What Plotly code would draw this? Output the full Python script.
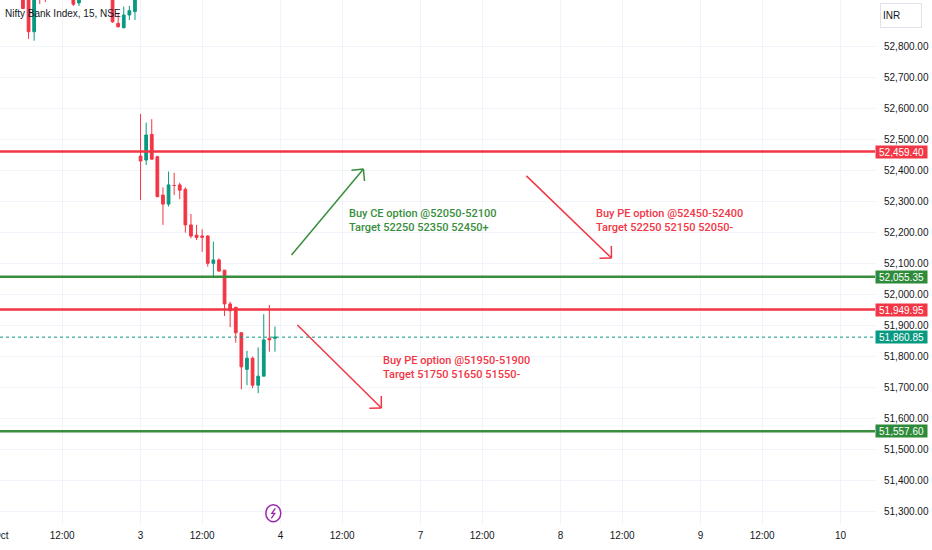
import numpy as np
import plotly.graph_objects as go

# 15 minute bars, x = bar number counted from 1 Oct 09:15 (25 bars per session)
bar_idx = [4, 5, 6, 7, 8, 13, 14, 20, 21, 22, 23, 24,
           25, 26, 27, 28, 29, 30, 31, 32, 33, 34, 35, 36, 37,
           38, 39, 40, 41, 42, 43, 44, 45, 46, 47, 48, 49]
bar_open = [52990, 52965, 52846, 52985, 52975, 52990, 52939, 52960, 52873, 52859, 52900, 52911,
            52445, 52432, 52515, 52443, 52319, 52290, 52350, 52352, 52338, 52223, 52190, 52187, 52187,
            52099, 52110, 52077, 51968, 51957, 51875, 51757, 51793, 51706, 51735, 51857, 51857]
bar_high = [53010, 52985, 53000, 52995, 52990, 53000, 52990, 52980, 52907, 52927, 52929, 52975,
            52581, 52553, 52564, 52446, 52344, 52395, 52391, 52359, 52344, 52258, 52223, 52209, 52190,
            52169, 52115, 52077, 51975, 51959, 51875, 51817, 51798, 51828, 51935, 51965, 51895]
bar_low = [52919, 52823, 52817, 52935, 52942, 52929, 52929, 52875, 52860, 52857, 52884, 52884,
           52303, 52416, 52438, 52312, 52223, 52282, 52319, 52306, 52198, 52180, 52174, 52136, 52088,
           52058, 52072, 51929, 51893, 51843, 51693, 51706, 51696, 51680, 51735, 51814, 51814]
bar_close = [52921, 52846, 52985, 52950, 52955, 52935, 52975, 52878, 52862, 52900, 52914, 52960,
             52429, 52513, 52435, 52314, 52290, 52352, 52350, 52335, 52223, 52187, 52182, 52183, 52099,
             52110, 52074, 51968, 51946, 51875, 51765, 51793, 51706, 51735, 51852, 51852, 51860.85]

tick_pos = [0, 11, 25, 36, 50, 61, 75, 86, 100, 111, 125, 136, 150]
tick_text = ["Oct", "12:00", "3", "12:00", "4", "12:00", "7", "12:00", "8", "12:00", "9", "12:00", "10"]
price_ticks = [51300, 51400, 51500, 51600, 51700, 51800, 51900, 52000,
               52100, 52200, 52300, 52400, 52500, 52600, 52700, 52800]

# horizontal levels drawn on the chart
levels = [52459.40, 52055.35, 51949.95, 51557.60]
level_kind = ["red", "green", "red", "green"]
last_price = 51860.85

# trade idea arrows (start bar, start price, end bar, end price)
arrows = [
    (51.96, 52126, 64.8, 52403, "green"),
    (93.9, 52381, 109.1, 52116, "red"),
    (53.0, 51900, 68.0, 51632, "red"),
]
notes = [
    (61.8, 52236, "Buy CE option @52050-52100<br>Target 52250 52350 52450+", "green"),
    (105.9, 52236, "Buy PE option @52450-52400<br>Target 52250 52150 52050-", "red"),
    (67.9, 51762, "Buy PE option @51950-51900<br>Target 51750 51650 51550-", "red"),
]

UP = "#089981"
DOWN = "#F23645"
COL = {"red": "#F23645", "green": "#388E3C"}
BOX = {"red": "#F23645", "green": "#2E8B3A"}
FONT = "Liberation Sans, Arial, sans-serif"

x_range = [-0.1, 156.15]
y_range = [51258.1, 52948.4]
plot_w, plot_h = 875, 524

fig = go.Figure()
fig.add_trace(go.Candlestick(
    x=bar_idx, open=bar_open, high=bar_high, low=bar_low, close=bar_close,
    increasing=dict(line=dict(color=UP, width=1), fillcolor=UP),
    decreasing=dict(line=dict(color=DOWN, width=1), fillcolor=DOWN),
    whiskerwidth=0, showlegend=False, hoverinfo="skip",
))

for lv, k in zip(levels, level_kind):
    fig.add_shape(type="line", xref="paper", x0=0, x1=1, yref="y", y0=lv, y1=lv,
                  line=dict(color=COL[k], width=2.5), layer="above")
    fig.add_annotation(xref="paper", x=1, xanchor="left", yref="y", y=lv,
                       text=f"{lv:,.2f}", showarrow=False, bgcolor=BOX[k],
                       font=dict(family=FONT, size=10, color="white"),
                       width=49, height=10, borderpad=1, align="center")

fig.add_shape(type="line", xref="paper", x0=0, x1=1, yref="y", y0=last_price, y1=last_price,
              line=dict(color=UP, width=1, dash="dot"))
fig.add_annotation(xref="paper", x=1, xanchor="left", yref="y", y=last_price,
                   text=f"{last_price:,.2f}", showarrow=False, bgcolor=UP,
                   font=dict(family=FONT, size=10, color="white"),
                   width=49, height=10, borderpad=1, align="center")

# arrows: main stroke in data space, open chevron head in pixels
ppx = plot_w / (x_range[1] - x_range[0])
ppy = plot_h / (y_range[1] - y_range[0])
for x0, y0, x1, y1, k in arrows:
    fig.add_shape(type="line", x0=x0, y0=y0, x1=x1, y1=y1, xref="x", yref="y",
                  line=dict(color=COL[k], width=1.5))
    d = np.array([(x0 - x1) * ppx, (y0 - y1) * ppy])
    d = d / np.hypot(*d) * 12
    for ang in (np.pi / 4, -np.pi / 4):
        c, s = np.cos(ang), np.sin(ang)
        ax_, ay_ = c * d[0] - s * d[1], s * d[0] + c * d[1]
        fig.add_shape(type="line", xref="x", yref="y", xsizemode="pixel", ysizemode="pixel",
                      xanchor=x1, yanchor=y1, x0=0, y0=0, x1=ax_, y1=ay_,
                      line=dict(color=COL[k], width=1.5))

for x, y, txt, k in notes:
    fig.add_annotation(x=x, y=y, xref="x", yref="y", xanchor="left", yanchor="middle",
                       text=txt, showarrow=False, align="left",
                       font=dict(family="Roboto, sans-serif", size=11, color=COL[k], weight=500))

# first time label sits on the left edge and is partly cut, like the original
fig.add_annotation(xref="x", yref="paper", x=tick_pos[0], y=0, yanchor="top", yshift=-4,
                   text=tick_text[0], showarrow=False, font=dict(family=FONT, size=10, color="#131722"))

# legend title and currency box
fig.add_annotation(xref="paper", yref="paper", x=0, y=1, xanchor="left", yanchor="top",
                   xshift=3, yshift=-6, text="Nifty Bank Index, 15, NSE", showarrow=False,
                   font=dict(family=FONT, size=10, color="#131722"))
fig.add_annotation(xref="paper", yref="paper", x=1, y=1, xanchor="left", yanchor="top",
                   xshift=5, yshift=-3, text="INR", showarrow=False, align="left",
                   width=36, height=19, borderpad=2, bgcolor="white",
                   bordercolor="#E0E3EB", borderwidth=1,
                   font=dict(family=FONT, size=10, color="#131722"))

# lightning marker near the time axis
mx, my = 273.3 / plot_w, 1 - 513.3 / plot_h
fig.add_shape(type="circle", xref="paper", yref="paper", xsizemode="pixel", ysizemode="pixel",
              xanchor=mx, yanchor=my, x0=-7.5, x1=7.5, y0=-8.5, y1=8.5,
              line=dict(color="#9C27B0", width=1.5), fillcolor="white")
fig.add_shape(type="path", xref="paper", yref="paper", xsizemode="pixel", ysizemode="pixel",
              xanchor=mx, yanchor=my, path="M 2,5 L -1.5,0 L 1.5,0 L -2,-5",
              line=dict(color="#9C27B0", width=1.3))

fig.update_layout(
    width=932, height=550,
    margin=dict(l=0, r=57, t=0, b=26),
    paper_bgcolor="white", plot_bgcolor="white",
    font=dict(family=FONT, size=10, color="#131722"),
    showlegend=False,
    xaxis=dict(range=x_range, rangeslider=dict(visible=False), tickvals=tick_pos[1:],
               ticktext=tick_text[1:], showgrid=True, gridcolor="#F0F3FA", zeroline=False,
               showline=False, ticks="", ticklabelstandoff=4, automargin=False,
               fixedrange=True),
    yaxis=dict(range=y_range, side="right", tickvals=price_ticks, tickformat=",.2f",
               showgrid=True, gridcolor="#F0F3FA", zeroline=False, showline=False,
               ticks="", ticklabelstandoff=8, automargin=False, fixedrange=True),
)

fig.write_html("out.html", config={"displayModeBar": False},
               post_script="document.body.style.margin='0';")
